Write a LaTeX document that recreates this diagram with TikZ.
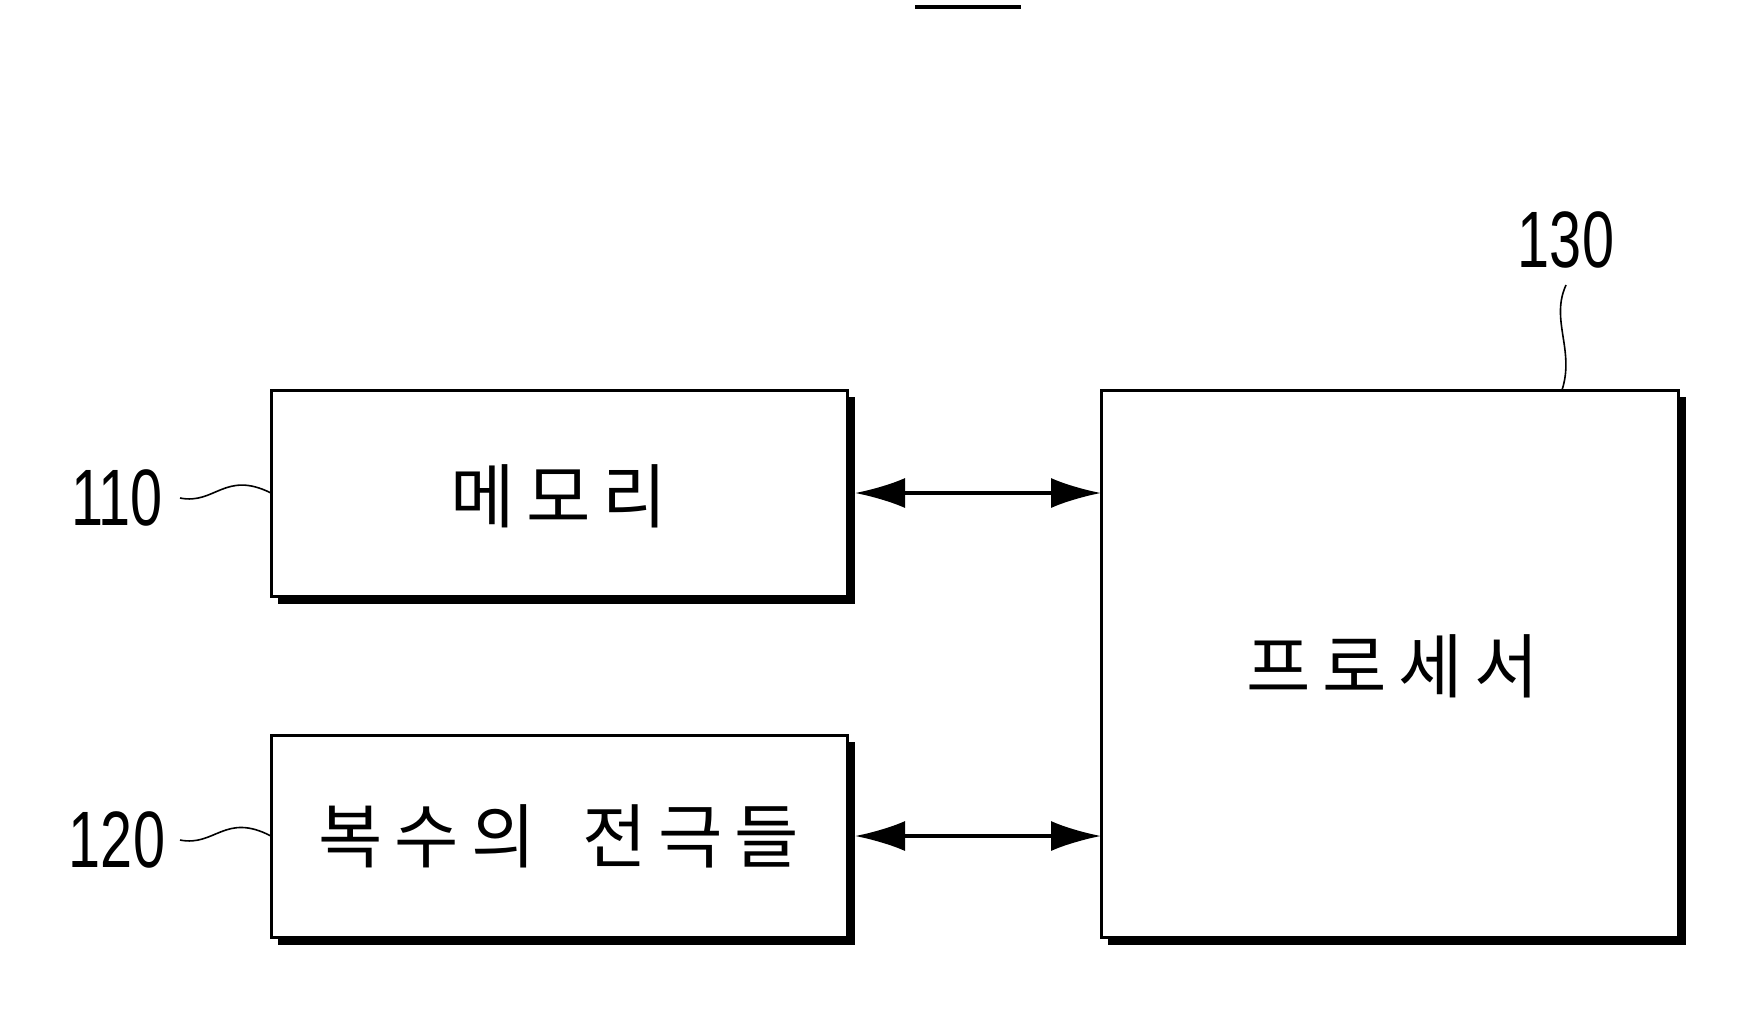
\documentclass[tikz,border=0pt]{standalone}
\usepackage{fontspec}
\setmainfont{Liberation Sans}
\newfontfamily\cjk{Noto Sans CJK KR}
\usetikzlibrary{arrows.meta}
\begin{document}
\begin{tikzpicture}[x=0.5pt,y=-0.5pt,
  blk/.style={draw,line width=1.5pt,fill=white},
  lbl/.style={font=\fontsize{40}{46}\selectfont,inner sep=0pt},
  kr/.style={font=\cjk\fontsize{35}{40}\selectfont},
  arr/.style={line width=1.6pt,{Latex[length=25pt,width=15pt]}-{Latex[length=25pt,width=15pt]}},
  sq/.style={line width=0.8pt}]
\useasboundingbox (0,0) rectangle (1754,1035);
\draw[line width=2pt] (915,7) -- (1021,7);
% shadows
\fill (278,397) rectangle (855,604);
\fill (278,742) rectangle (855,945);
\fill (1108,397) rectangle (1686,945);
\draw[blk] (271,390) rectangle (847,596);
\draw[blk] (271,735) rectangle (847,937);
\draw[blk] (1101,390) rectangle (1678,937);
\coordinate (memL) at (271,493);
\coordinate (memR) at (855,493);
\coordinate (eleL) at (271,836);
\coordinate (eleR) at (855,836);
\coordinate (proA) at (1101,493);
\coordinate (proB) at (1101,836);
\coordinate (proT) at (1562,390);
\node[kr] (tm) at (559,496) {메\,모\,리};
\node[kr] (te) at (559,836) {복\,수\,의\ \ \ 전\,극\,들};
\node[kr] (tp) at (1393,666) {프\,로\,세\,서};
\draw[arr] (memR) -- (proA);
\draw[arr] (eleR) -- (proB);
\node[lbl,xscale=0.72] (l110) at (117,498) {110};
\node[lbl,xscale=0.72] (l120) at (117,840) {120};
\node[lbl,xscale=0.72] (l130) at (1566,240) {130};
\draw[sq] (180,498) .. controls (215,505) and (225,470) .. (memL);
\draw[sq] (180,840) .. controls (215,847) and (225,812) .. (eleL);
\draw[sq] (1566,285) .. controls (1550,320) and (1575,350) .. (proT);
\end{tikzpicture}
\end{document}
